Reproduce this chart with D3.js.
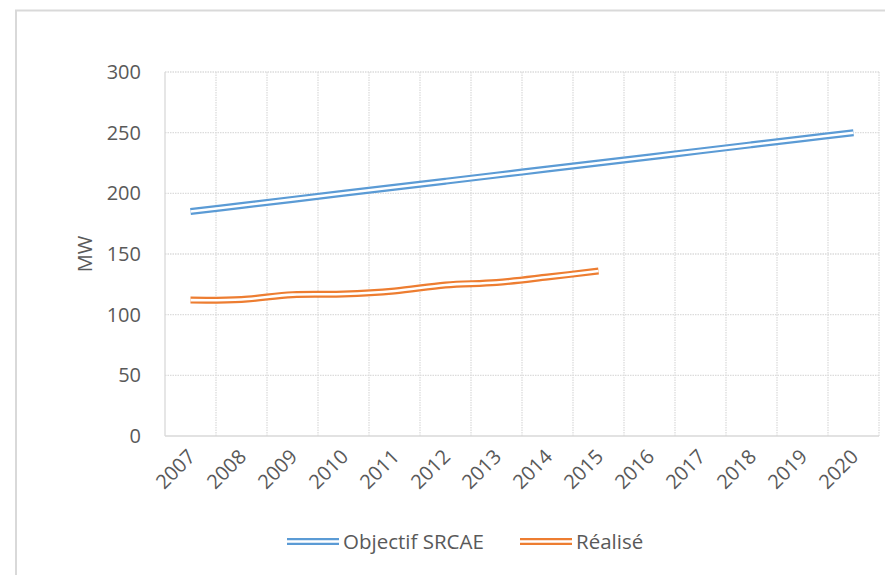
<!DOCTYPE html>
<html><head><meta charset="utf-8">
<script src="https://cdn.jsdelivr.net/npm/d3@7"></script>
<style>body{margin:0;background:#fff;} svg{display:block;} text{font-family:"Open Sans",sans-serif;fill:#595959;}</style>
</head><body>
<svg id="c" width="885" height="575"></svg>
<script>
const years = ["2007","2008","2009","2010","2011","2012","2013","2014","2015","2016","2017","2018","2019","2020"];
const objectif = [185,190,195,200,205,210,215,220,225,230,235,240,245,250];
const realiseYears = ["2007","2008","2009","2010","2011","2012","2013","2014","2015"];
const realise = [112,112.5,116.5,117,119.5,124.5,126.5,131,136];
const yTicks = [0,50,100,150,200,250,300];
const seriesNames = ["Objectif SRCAE","Réalisé"];
const colors = ["#5b9bd5","#ed7d31"];

const svg = d3.select("#c");
// chart border (left + top)
svg.append("path").attr("d","M16,575V10.5H885").attr("fill","none").attr("stroke","#d9d9d9").attr("stroke-width",2);

const L=165, R=879, T=72, B=436;
const x = d3.scaleBand().domain(years).range([L,R]);
const y = d3.scaleLinear().domain([0,300]).range([B,T]);

const g = svg.append("g");
// horizontal grid
g.selectAll(".hg").data(yTicks.filter(d=>d>0)).join("line")
  .attr("x1",L).attr("x2",R).attr("y1",d=>y(d)).attr("y2",d=>y(d))
  .attr("stroke","#dcdcdc").attr("stroke-width",1.3).attr("stroke-dasharray","1.5,1");
// vertical grid at band boundaries
g.selectAll(".vg").data(years.slice(1).concat(["end"])).join("line")
  .attr("x1",(d,i)=> i<years.length-1 ? x(d) : R).attr("x2",(d,i)=> i<years.length-1 ? x(d) : R)
  .attr("y1",T).attr("y2",B)
  .attr("stroke","#dcdcdc").attr("stroke-width",1.3).attr("stroke-dasharray","1.5,1");
// axes lines
g.append("line").attr("x1",L).attr("x2",L).attr("y1",T).attr("y2",B).attr("stroke","#d9d9d9").attr("stroke-width",1.3);
g.append("line").attr("x1",L).attr("x2",R).attr("y1",B).attr("y2",B).attr("stroke","#d9d9d9").attr("stroke-width",1.3);

// y tick labels
const yAxis = d3.axisLeft(y).tickValues(yTicks).tickSize(0).tickPadding(24);
const ya = svg.append("g").attr("transform",`translate(${L},0)`).call(yAxis);
ya.select(".domain").remove();
ya.selectAll("text").style("font-size","20px").attr("fill","#595959").style("font-family","'Open Sans',sans-serif");

// x tick labels
const xAxis = d3.axisBottom(x).tickSize(0).tickPadding(0);
const xa = svg.append("g").attr("transform",`translate(0,${B})`).call(xAxis);
xa.select(".domain").remove();
xa.selectAll("text").style("font-size","20px").attr("fill","#595959").style("font-family","'Open Sans',sans-serif")
  .attr("text-anchor","end").attr("dy",null).attr("y",0)
  .attr("transform","translate(6,22) rotate(-45)");

// y title
svg.append("text").attr("transform",`translate(92,${(T+B)/2}) rotate(-90)`).attr("text-anchor","middle")
  .style("font-size","20px").text("MW");

const line = d3.line().x(d=>x(d[0])+x.bandwidth()/2).y(d=>y(d[1])).curve(d3.curveCatmullRom.alpha(0.5));
const series = [years.map((yr,i)=>[yr,objectif[i]]), realiseYears.map((yr,i)=>[yr,realise[i]])];
series.forEach((s,i)=>{
  svg.append("path").attr("d",line(s)).attr("fill","none").attr("stroke",colors[i]).attr("stroke-width",7);
  svg.append("path").attr("d",line(s)).attr("fill","none").attr("stroke","#fff").attr("stroke-width",2.6);
});

// legend
const leg = [{x:287,name:seriesNames[0]},{x:520,name:seriesNames[1]}];
leg.forEach((d,i)=>{
  svg.append("line").attr("x1",d.x).attr("x2",d.x+52).attr("y1",541.5).attr("y2",541.5).attr("stroke",colors[i]).attr("stroke-width",7);
  svg.append("line").attr("x1",d.x).attr("x2",d.x+52).attr("y1",541.5).attr("y2",541.5).attr("stroke","#fff").attr("stroke-width",2.6);
  svg.append("text").attr("x",d.x+56).attr("y",541.5).attr("dy","0.35em").style("font-size","20.5px").text(d.name);
});
</script>
</body></html>
